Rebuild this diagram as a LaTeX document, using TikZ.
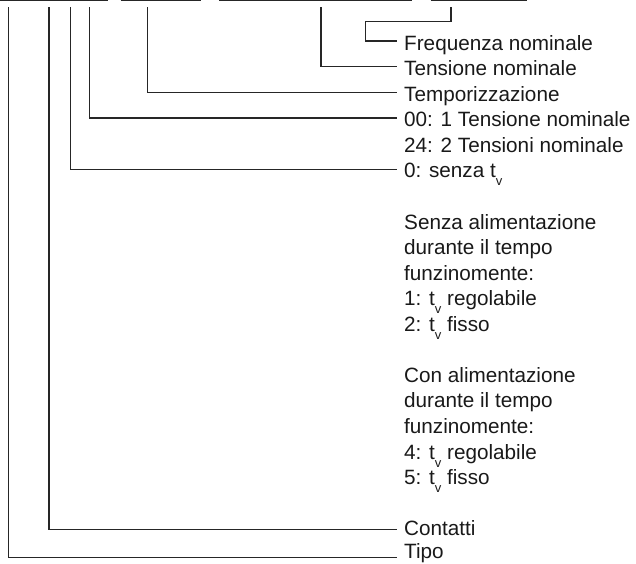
\documentclass[tikz,border=0pt]{standalone}
\usepackage{fontspec}
\setmainfont{Liberation Sans}
\newcommand{\tvsub}{t\raisebox{-8pt}{\fontsize{13}{13}\selectfont v}}

\begin{document}
\begin{tikzpicture}[x=1pt, y=-1pt,
        bar/.style={line width=1.4pt, black!85},
        link/.style={line width=1.2pt, black!85},
        lbl/.style={anchor=base west, inner xsep=7pt, inner ysep=0pt,
            text=black!90, font=\fontsize{20.7}{25.55}\selectfont},
        blk/.style={anchor=north west, inner xsep=7pt, inner ysep=0pt,
            align=left, text=black!90,
            font=\fontsize{20.7}{25.55}\selectfont}]
        \useasboundingbox (0,0) rectangle (636,563);

        % code fields on top
        \draw[bar] (0,0.7) -- (107.7,0.7);
        \draw[bar] (120.7,0.7) -- (200.7,0.7);
        \draw[bar] (219,0.7) -- (412.3,0.7);
        \draw[bar] (430.7,0.7) -- (526.7,0.7);

        % labels (at their baselines)
        \node[lbl] (freq) at (397,50) {Frequenza nominale};
        \node[lbl] (tens) at (397,75.55) {Tensione nominale};
        \node[lbl] (temp) at (397,101.1) {Temporizzazione};
        \node[lbl] (una) at (397,126.65) {00: 1 Tensione nominale};
        \node[lbl] (due) at (397,152.2) {24: 2 Tensioni nominale};
        \node[lbl] (senzatv) at (397,177.75) {0: senza \tvsub};
        \node[blk] (senza) at (397,213.85) {Senza alimentazione\\durante il tempo\\funzinomente:\\1: \tvsub{} regolabile\\2: \tvsub{} fisso};
        \node[blk] (con) at (397,367.2) {Con alimentazione\\durante il tempo\\funzinomente:\\4: \tvsub{} regolabile\\5: \tvsub{} fisso};
        \node[lbl] (cont) at (397,535.4) {Contatti};
        \node[lbl] (tipo) at (397,558.4) {Tipo};

        % start points under the fields
        \coordinate (ftop) at (451,7);
        \coordinate (fjog) at (365.3,21.7);
        \coordinate (ntop) at (321,7);
        \coordinate (ttop) at (147.7,7);
        \coordinate (utop) at (89.3,7);
        \coordinate (stop) at (70.7,7);
        \coordinate (ctop) at (49,7);
        \coordinate (ptop) at (8.7,7);

        % connectors
        \draw[link] (ftop) |- (fjog) |- ([yshift=9pt]freq.base west);
        \draw[link] (ntop) |- ([yshift=9.3pt]tens.base west);
        \draw[link] (ttop) |- ([yshift=8.6pt]temp.base west);
        \draw[link] (utop) |- ([yshift=8.6pt]una.base west);
        \draw[link] (stop) |- ([yshift=8.5pt]senzatv.base west);
        \draw[link] (ctop) |- ([yshift=6pt]cont.base west);
        \draw[link] (ptop) |- ([yshift=0.6pt]tipo.base west);
    \end{tikzpicture}
\end{document}
